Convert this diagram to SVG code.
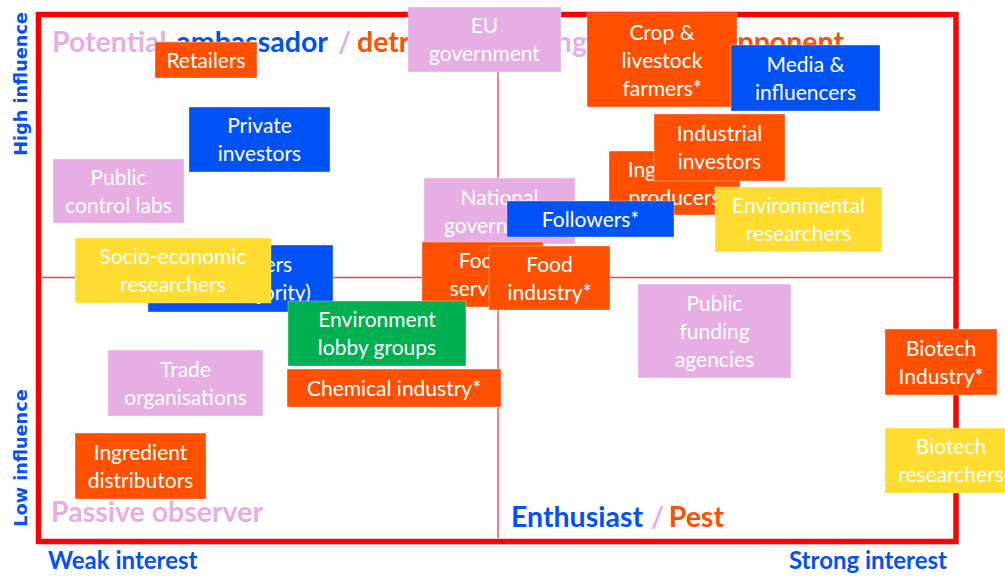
<svg xmlns="http://www.w3.org/2000/svg" width="1005" height="578" viewBox="0 0 1005 578">
  <style>
    .n rect { stroke: #ffffff; stroke-opacity: 0.35; stroke-width: 1; }
    .n text { font-family: Lato, "Open Sans", "Liberation Sans", sans-serif; font-size: 21px; fill: #ffffff; text-anchor: middle; }
    .o { fill: #FF5000; }
    .b { fill: #0052F5; }
    .p { fill: #E6AEE2; }
    .y { fill: #FFDC30; }
    .g { fill: #00B050; }
    .q { font-family: Lato, "Open Sans", "Liberation Sans", sans-serif; font-weight: bold; font-size: 28.5px; }
    .ax { font-family: Lato, "Open Sans", "Liberation Sans", sans-serif; font-weight: bold; font-size: 24px; fill: #0052F5; }
    .ay { font-family: "DejaVu Sans", Verdana, sans-serif; font-weight: bold; font-size: 17.7px; fill: #0052F5; text-anchor: middle; }
    .tb { fill: #0052F5; }
    .to { fill: #FF5000; }
    .tp { fill: #E6AEE2; }
    .end { text-anchor: end; }
  </style>

  <!-- quadrant grid -->
  <g id="grid">
    <line x1="41" y1="277.5" x2="953" y2="277.5" stroke="#F04040" stroke-width="1.3"/>
    <line x1="498" y1="17" x2="498" y2="538" stroke="#F04040" stroke-width="1.3"/>
    <rect x="38.5" y="14.5" width="917.5" height="527" fill="none" stroke="#FF0000" stroke-width="5.5"/>
  </g>

  <!-- quadrant titles -->
  <g id="quadrant-labels">
    <text class="q tp" x="52" y="52">Potential</text>
    <text class="q tb end" x="328" y="52">ambassador</text>
    <text class="q tp" x="338" y="52">/</text>
    <text class="q to" x="357" y="52">detractor</text>
    <text class="q tp end" x="587" y="52">Strong</text>
    <text class="q tb" x="596" y="52">supporter</text>
    <text class="q tp" x="705" y="52">/</text>
    <text class="q to end" x="844" y="52">opponent</text>
    <text class="q tp" x="51" y="522">Passive observer</text>
    <text class="q tb" x="511" y="527">Enthusiast</text>
    <text class="q tp" x="651" y="527">/</text>
    <text class="q to end" x="724" y="527">Pest</text>
  </g>

  <!-- axis labels -->
  <g id="axes">
    <text class="ay" transform="translate(26.5,84) rotate(-90)">High influence</text>
    <text class="ay" transform="translate(26.5,458) rotate(-90)">Low influence</text>
    <text class="ax" x="48" y="569">Weak interest</text>
    <text class="ax end" x="947" y="569">Strong interest</text>
  </g>

  <!-- stakeholders -->
  <g id="public-control-labs" class="n">
    <rect class="p" x="53" y="159" width="131" height="64"/>
    <text x="118.5" y="184.5">Public</text>
    <text x="118.5" y="212.5">control labs</text>
  </g>
  <g id="retailers" class="n">
    <rect class="o" x="155" y="42" width="102" height="36"/>
    <text x="206" y="67.5">Retailers</text>
  </g>
  <g id="private-investors" class="n">
    <rect class="b" x="189" y="107" width="141" height="65"/>
    <text x="259.5" y="133">Private</text>
    <text x="259.5" y="161">investors</text>
  </g>
  <g id="eu-government" class="n">
    <rect class="p" x="408" y="7" width="153" height="65"/>
    <text x="484.5" y="33">EU</text>
    <text x="484.5" y="61">government</text>
  </g>
  <g id="crop-livestock-farmers" class="n">
    <rect class="o" x="587" y="13" width="150" height="94"/>
    <text x="662" y="39.5">Crop &amp;</text>
    <text x="662" y="67.5">livestock</text>
    <text x="662" y="95.5">farmers*</text>
  </g>
  <g id="media-influencers" class="n">
    <rect class="b" x="731" y="45" width="149" height="66"/>
    <text x="805.5" y="71.5">Media &amp;</text>
    <text x="805.5" y="99.5">influencers</text>
  </g>
  <g id="ingredient-producers" class="n">
    <rect class="o" x="609" y="151" width="131" height="64"/>
    <text x="674.5" y="176.5">Ingredient</text>
    <text x="674.5" y="204.5">producers</text>
  </g>
  <g id="industrial-investors" class="n">
    <rect class="o" x="654" y="114" width="131" height="67"/>
    <text x="719.5" y="141">Industrial</text>
    <text x="719.5" y="169">investors</text>
  </g>
  <g id="environmental-researchers" class="n">
    <rect class="y" x="715" y="187" width="167" height="65"/>
    <text x="798.5" y="213">Environmental</text>
    <text x="798.5" y="241">researchers</text>
  </g>
  <g id="national-government" class="n">
    <rect class="p" x="424" y="178" width="151" height="66"/>
    <text x="499.5" y="204.5">National</text>
    <text x="499.5" y="232.5">government</text>
  </g>
  <g id="followers" class="n">
    <rect class="b" x="507" y="201" width="167" height="36"/>
    <text x="590.5" y="226.5">Followers*</text>
  </g>
  <g id="food-service" class="n">
    <rect class="o" x="422" y="242" width="121" height="65"/>
    <text x="482" y="268">Food</text>
    <text x="482" y="296">service</text>
  </g>
  <g id="food-industry" class="n">
    <rect class="o" x="489" y="246" width="121" height="64"/>
    <text x="549.5" y="271.5">Food</text>
    <text x="549.5" y="299.5">industry*</text>
  </g>
  <g id="consumers" class="n">
    <rect class="b" x="148" y="245" width="185" height="67"/>
    <text x="240.5" y="272">Consumers</text>
    <text x="240.5" y="300">(silent majority)</text>
  </g>
  <g id="socio-economic-researchers" class="n">
    <rect class="y" x="75" y="238" width="196" height="65"/>
    <text x="173" y="264">Socio-economic</text>
    <text x="173" y="292">researchers</text>
  </g>
  <g id="environment-lobby-groups" class="n">
    <rect class="g" x="288" y="301" width="178" height="65"/>
    <text x="377" y="327">Environment</text>
    <text x="377" y="355">lobby groups</text>
  </g>
  <g id="chemical-industry" class="n">
    <rect class="o" x="287" y="369" width="214" height="38"/>
    <text x="394" y="395.5">Chemical industry*</text>
  </g>
  <g id="trade-organisations" class="n">
    <rect class="p" x="108" y="350" width="155" height="66"/>
    <text x="185.5" y="376.5">Trade</text>
    <text x="185.5" y="404.5">organisations</text>
  </g>
  <g id="public-funding-agencies" class="n">
    <rect class="p" x="638" y="284" width="153" height="94"/>
    <text x="714.5" y="310.5">Public</text>
    <text x="714.5" y="338.5">funding</text>
    <text x="714.5" y="366.5">agencies</text>
  </g>
  <g id="ingredient-distributors" class="n">
    <rect class="o" x="75" y="433" width="131" height="66"/>
    <text x="140.5" y="459.5">Ingredient</text>
    <text x="140.5" y="487.5">distributors</text>
  </g>
  <g id="biotech-industry" class="n">
    <rect class="o" x="885" y="329" width="112" height="66"/>
    <text x="941" y="355.5">Biotech</text>
    <text x="941" y="383.5">Industry*</text>
  </g>
  <g id="biotech-researchers" class="n">
    <rect class="y" x="885" y="428" width="132" height="65"/>
    <text x="951" y="454">Biotech</text>
    <text x="951" y="482">researchers</text>
  </g>
</svg>
